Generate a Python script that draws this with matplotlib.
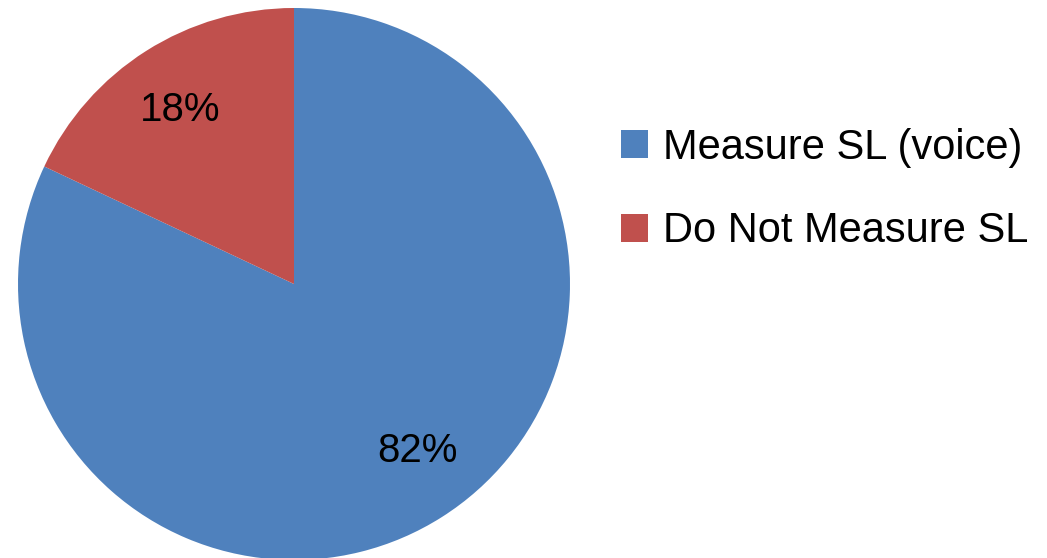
import matplotlib
matplotlib.use("Agg")
import matplotlib.pyplot as plt

# Datos del gráfico
categorias = ["Measure SL (voice)", "Do Not Measure SL"]
porcentajes = [82, 18]
colores = ["#4F81BD", "#C0504D"]

plt.rcParams['font.family'] = ['Liberation Sans', 'DejaVu Sans']

fig = plt.figure(figsize=(10.47, 5.58), dpi=100)
W, H = 1047, 558
cx, cy, r = 294, 284, 276
ax = fig.add_axes([(cx - r) / W, (H - cy - r) / H, 2 * r / W, 2 * r / H])

wedges, textos, autotextos = ax.pie(
    porcentajes, colors=colores, startangle=90, counterclock=False,
    autopct=lambda p: f"{p:.0f}%", pctdistance=0.76, radius=1,
    textprops={"fontsize": 29, "color": "black"},
)
# ajustar posición de las etiquetas
autotextos[0].set_position((0.449, -0.605))
autotextos[1].set_position((-0.413, 0.632))
ax.set_xlim(-1, 1)
ax.set_ylim(-1, 1)
ax.set_aspect("equal")
ax.axis("off")

fig.legend(wedges, categorias, loc="upper left",
           bbox_to_anchor=(621 / W, 1 - 128 / H), frameon=False,
           fontsize=30, handlelength=0.65, handleheight=0.65,
           handletextpad=0.36, labelspacing=1.04, borderpad=0, borderaxespad=0)

fig.savefig("out.png", dpi=100)
